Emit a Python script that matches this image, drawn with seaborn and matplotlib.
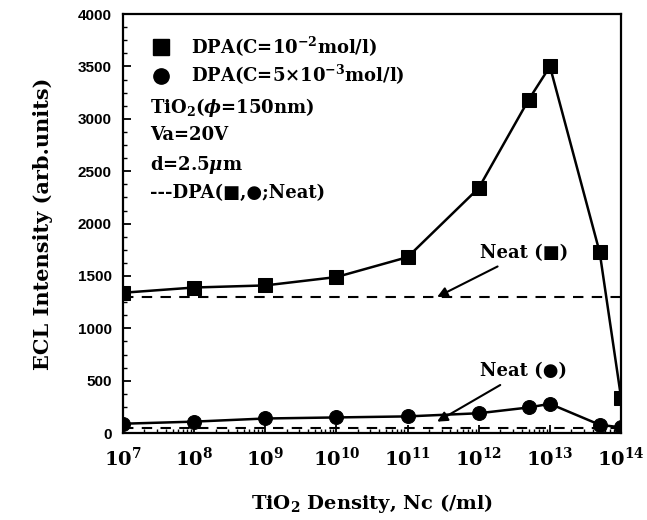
import matplotlib
matplotlib.use("Agg")
import matplotlib.pyplot as plt
import seaborn as sns
import numpy as np
import pandas as pd
from matplotlib.ticker import MultipleLocator, LogLocator, FixedLocator, NullFormatter
from matplotlib.lines import Line2D

sns.set_style("ticks")
plt.rcParams['font.family'] = ['DejaVu Serif', 'DejaVu Sans']
plt.rcParams['mathtext.fontset'] = 'custom'
plt.rcParams['mathtext.rm'] = 'DejaVu Serif:bold'
plt.rcParams['mathtext.bf'] = 'DejaVu Serif:bold'
plt.rcParams['mathtext.it'] = 'DejaVu Serif:bold:italic'
plt.rcParams['text.color'] = 'black'
plt.rcParams['axes.labelcolor'] = 'black'
plt.rcParams['xtick.color'] = 'black'
plt.rcParams['ytick.color'] = 'black'

# data
density = [1e7, 1e8, 1e9, 1e10, 1e11, 1e12, 5e12, 1e13, 5e13, 1e14]
dpa_high = [1340, 1390, 1410, 1490, 1680, 2340, 3180, 3500, 1725, 335]   # C=1e-2 mol/l
dpa_low = [90, 110, 140, 150, 160, 190, 245, 280, 80, 55]               # C=5e-3 mol/l
neat_high = 1300
neat_low = 50

fig = plt.figure(figsize=(6.47, 5.2), dpi=100)
ax = fig.add_axes([0.190, 0.167, 0.770, 0.806])

df = pd.DataFrame({'Nc': density, 'high': dpa_high, 'low': dpa_low})
sns.lineplot(data=df, x='Nc', y='high', ax=ax, color='black', lw=1.8,
             marker='s', markersize=10, markeredgecolor='black', markerfacecolor='black')
sns.lineplot(data=df, x='Nc', y='low', ax=ax, color='black', lw=1.8,
             marker='o', markersize=10, markeredgecolor='black', markerfacecolor='black')

ax.axhline(neat_high, color='black', lw=1.5, dashes=(5, 4))
ax.axhline(neat_low, color='black', lw=1.5, dashes=(5, 4))

ax.set_xscale('log')
ax.set_xlim(1e7, 1e14)
ax.set_ylim(0, 4000)

ax.xaxis.set_major_locator(FixedLocator([10.0**k for k in range(7, 15)]))
ax.set_xticklabels([r'$\mathbf{10^{%d}}$' % k for k in range(7, 15)], fontsize=14)
ax.xaxis.set_minor_locator(LogLocator(base=10, subs=np.arange(2, 10), numticks=20))
ax.xaxis.set_minor_formatter(NullFormatter())

ax.yaxis.set_major_locator(MultipleLocator(500))
ax.yaxis.set_minor_locator(MultipleLocator(125))
for lab in ax.get_yticklabels():
    lab.set_family('Liberation Sans')
    lab.set_fontweight('bold')
    lab.set_fontsize(11)

ax.tick_params(axis='both', which='major', direction='in', length=6, width=1.3, color='black')
ax.tick_params(axis='both', which='minor', direction='in', length=3, width=1.0, color='black')
ax.tick_params(axis='x', which='major', pad=10)
ax.tick_params(axis='y', which='major', pad=8)

for sp in ax.spines.values():
    sp.set_visible(True)
    sp.set_color('black')
    sp.set_linewidth(1.6)

ax.set_xlabel(r'TiO$_\mathbf{2}$ Density, Nc (/ml)', fontsize=14, fontweight='bold', labelpad=16)
ax.set_ylabel('ECL Intensity (arb.units)', fontsize=15, fontweight='bold', labelpad=18)

# legend-like block
handles = [Line2D([], [], ls='none', marker='s', color='black', markersize=11),
           Line2D([], [], ls='none', marker='o', color='black', markersize=11)]
labels = [r'DPA(C=10$^{-2}$mol/l)', r'DPA(C=5$\times$10$^{-3}$mol/l)']
leg = ax.legend(handles, labels, loc='upper left', bbox_to_anchor=(0.025, 0.99),
                frameon=False, handlelength=1.0, handletextpad=1.2, labelspacing=0.25,
                prop={'family': 'DejaVu Serif', 'weight': 'bold', 'size': 13})

txt_kw = dict(transform=ax.transAxes, fontsize=13, fontweight='bold', va='center', ha='left')
ax.text(0.055, 0.776, r'TiO$_\mathbf{2}$($\phi$=150nm)', **txt_kw)
ax.text(0.055, 0.711, 'Va=20V', **txt_kw)
ax.text(0.055, 0.640, r'd=2.5$\mu$m', **txt_kw)
ax.text(0.055, 0.573, '---DPA(■,●;Neat)', **txt_kw)

arrow = dict(arrowstyle='-|>', color='black', lw=1.5, mutation_scale=15, shrinkA=2, shrinkB=0)
ax.annotate('Neat (■)', xy=(2.6e11, neat_high), xytext=(1.05e12, 1720),
            fontsize=13, fontweight='bold', va='center', ha='left', arrowprops=arrow)
ax.annotate('Neat (●)', xy=(2.6e11, 110), xytext=(1.05e12, 590),
            fontsize=13, fontweight='bold', va='center', ha='left', arrowprops=arrow)

fig.savefig('out.png', dpi=100)
